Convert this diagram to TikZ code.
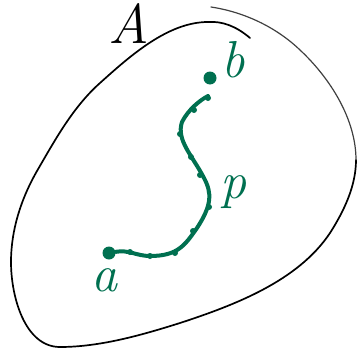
\documentclass[tikz,border=0pt]{standalone}
\usepackage{tikz}
\usetikzlibrary{arrows.meta,positioning,calc}
\definecolor{pathgreen}{RGB}{0,112,80}

\begin{document}
\begin{tikzpicture}[x=1pt,y=-1pt,
 pathline/.style={pathgreen,line width=4pt,line cap=round,line join=round},
 enddot/.style={circle,fill=pathgreen,inner sep=0pt,minimum size=13pt},
 greenlabel/.style={pathgreen,inner sep=0pt,font=\fontsize{52}{52}\selectfont\itshape}]
 \useasboundingbox (0,0) rectangle (359,351);
 % the set A
 \draw[line width=1.7pt,line cap=round] (250,38)
  .. controls (236,26) and (222,21) .. (208,22)
  .. controls (168,22) and (130,56) .. (100,83)
  .. controls (73,107) and (55,140) .. (37,171)
  .. controls (21,199) and (11,230) .. (11,262)
  .. controls (11,297) and (25,347) .. (60,347)
  .. controls (100,347) and (142,335) .. (180,323)
  .. controls (235,305) and (298,281) .. (330,233)
  .. controls (344,211) and (356,186) .. (356,160);
 \draw[line width=1.2pt,black!75,line cap=round] (356,160)
  .. controls (356,119) and (330,78) .. (300,50)
  .. controls (276,27) and (244,12) .. (211,7);
 \node[font=\fontsize{56}{56}\selectfont\itshape,inner sep=0pt] (setA) at (129,24) {A};
 % end points
 \node[enddot] (a) at (109,253) {};
 \node[enddot] (b) at (210,78) {};
 \node[greenlabel] (alab) at (104,280) {a};
 \node[greenlabel] (blab) at (233,60) {b};
 % the path p
 \draw[pathline] (a) to[out=10,in=180] (150,256)
  .. controls (178,256) and (185,245) .. (197,228)
  .. controls (212,205) and (212,193) .. (204,178)
  .. controls (192,155) and (176,140) .. (182,122)
  .. controls (188,110) and (200,100) .. (208,96);
 \node[greenlabel] (plab) at (233,192) {p};
 \foreach \px/\py in {130/252,150/256,175/253,193/231,209/207,200/175,191/157,180/134,194/110,208/98}
  \fill[pathgreen] (\px,\py) circle (3pt);
\end{tikzpicture}
\end{document}
